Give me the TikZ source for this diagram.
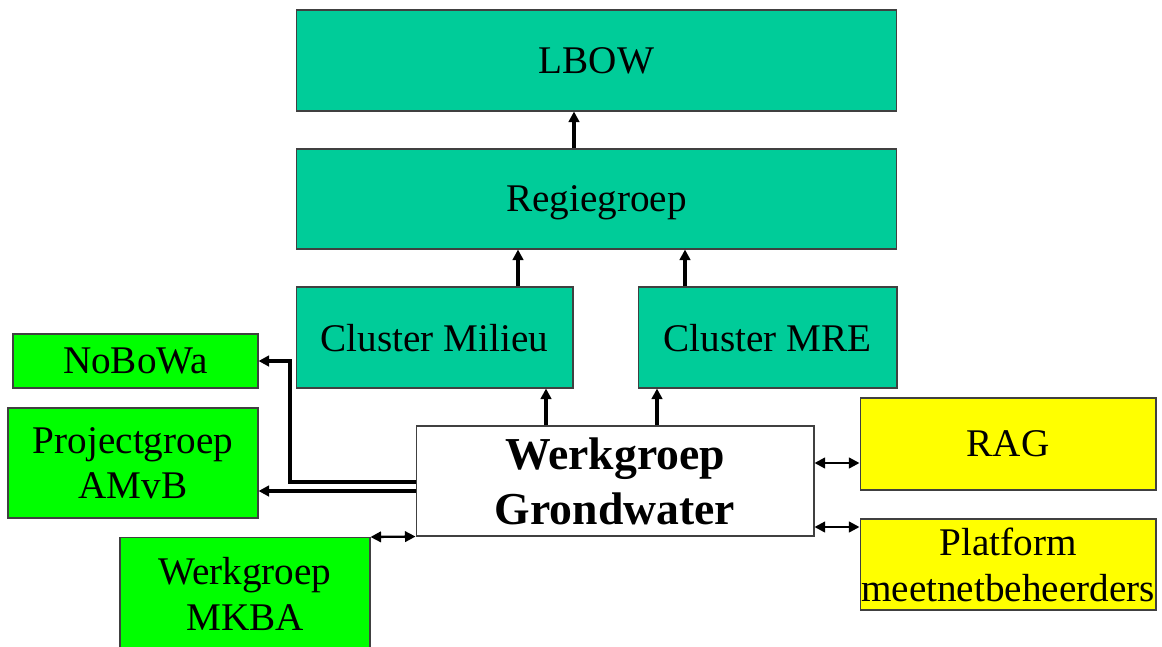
\documentclass[tikz,border=0pt]{standalone}
\usepackage{fontspec}
\setmainfont{Liberation Serif}
\usetikzlibrary{arrows.meta}
\definecolor{teal}{HTML}{00CC99}
\definecolor{groen}{HTML}{00FF00}
\definecolor{geel}{HTML}{FFFF00}

\begin{document}
\begin{tikzpicture}[x=0.02cm,y=-0.02cm,
  box/.style={draw=black!75,line width=0.6pt,inner sep=0pt,align=center,
    text depth=0pt,font=\fontsize{22.3}{26}\selectfont},
  arr/.style={line width=1.9pt,-{Triangle[length=6pt,width=6pt]}},
  dubbel/.style={line width=1.3pt,{Triangle[length=6pt,width=6pt]}-{Triangle[length=6pt,width=6pt]}}]
\useasboundingbox (0,0) rectangle (1162,646);
\begin{scope}
\clip (0,0) rectangle (1162,646);
\node[box,fill=teal,minimum width=12.02cm,minimum height=2.02cm] (lbow) at (596.5,60.5) {LBOW};
\node[box,fill=teal,minimum width=12.02cm,minimum height=2cm] (reg) at (596.5,199) {Regiegroep};
\node[box,fill=teal,minimum width=5.54cm,minimum height=2.02cm] (mil) at (434.5,337.5) {Cluster Milieu};
\node[box,fill=teal,minimum width=5.18cm,minimum height=2.02cm] (mre) at (767.5,337.5) {Cluster MRE};
\node[box,fill=groen,minimum width=4.9cm,minimum height=1.08cm] (nob) at (135.5,361) {NoBoWa};
\node[box,fill=groen,minimum width=5cm,minimum height=2.2cm] (prj) at (133,463) {Projectgroep\\AMvB};
\node[box,fill=white,minimum width=7.96cm,minimum height=2.2cm,
  font=\fontsize{26}{31}\selectfont\bfseries] (wg) at (615,481) {Werkgroep\\Grondwater};
\node[box,fill=groen,minimum width=5cm,minimum height=2.26cm] (mkba) at (245,594) {Werkgroep\\MKBA};
\node[box,fill=geel,minimum width=5.92cm,minimum height=1.84cm] (rag) at (1008,444) {RAG};
\node[box,fill=geel,minimum width=5.92cm,minimum height=1.82cm] (plat) at (1008,564.5) {Platform\\meetnetbeheerders};
\end{scope}
% pijlen omhoog
\draw[arr] (reg.north -| 574,0) -- (lbow.south -| 574,0);
\draw[arr] (mil.north -| 518,0) -- (reg.south -| 518,0);
\draw[arr] (mre.north -| 685,0) -- (reg.south -| 685,0);
\draw[arr] (wg.north -| 546,0) -- (mil.south -| 546,0);
\draw[arr] (wg.north -| 657,0) -- (mre.south -| 657,0);
% links
\draw[arr] (wg.west |- 0,482) -- (290,482) |- (nob.east);
\draw[arr] (wg.west |- 0,491) -- (prj.east |- 0,491);
\draw[dubbel] (mkba.north east) -- (wg.south west);
% rechts
\draw[dubbel] (wg.east |- 0,463) -- (rag.west |- 0,463);
\draw[dubbel] (wg.east |- 0,527) -- (plat.west |- 0,527);
\end{tikzpicture}
\end{document}
